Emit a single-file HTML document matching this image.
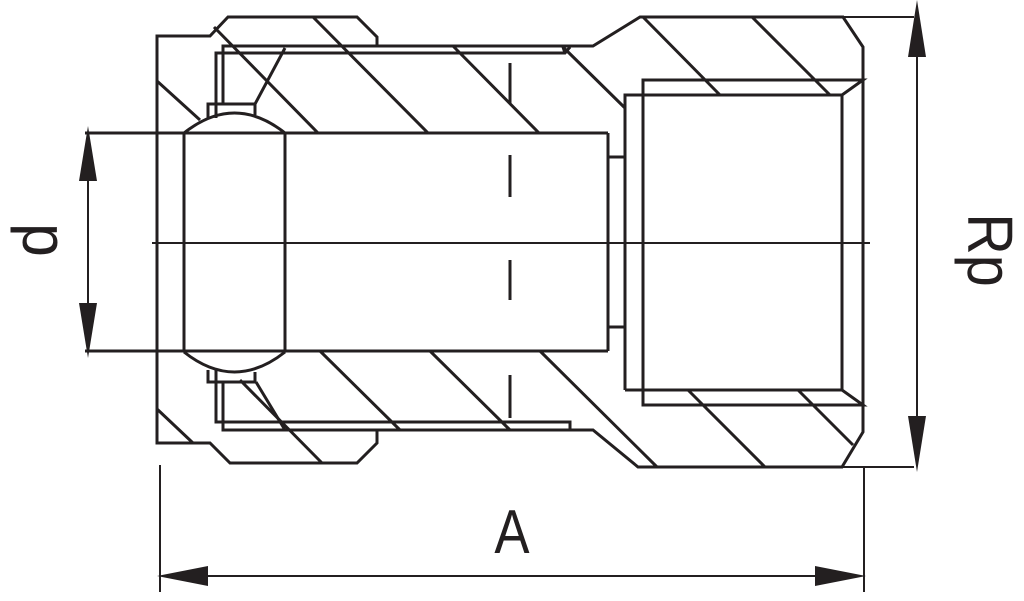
<!DOCTYPE html>
<html><head><meta charset="utf-8"><style>
html,body{margin:0;padding:0;background:#fff;}
svg{display:block;}
text{font-family:"Liberation Sans",sans-serif;fill:#231f20;}
</style></head><body>
<svg width="1024" height="601" viewBox="0 0 1024 601" xmlns="http://www.w3.org/2000/svg">
<g fill="none" stroke="#231f20" stroke-width="3" stroke-linejoin="miter">
<!-- outer body top -->
<polyline points="157,245 157,36 210,36 228,17 357,17 377,37 377,46"/>
<polyline points="223,105 223,46 593,46 640,17 843,17 863,47 863,432 842,467 638,467 593,430 223,430 223,382"/>
<polyline points="216,118 216,53 565,53 570,47"/>
<line x1="565" y1="53" x2="563" y2="47"/>
<polyline points="216,370 216,422 570,422 570,430"/>
<!-- outer body bottom -->
<polyline points="157,245 157,443 210,443 230,463 357,463 377,443 377,430"/>
<!-- small rects near ball -->
<polyline points="208,118 208,104 255,104 255,115"/>
<polyline points="208,370 208,382 255,382 255,372"/>
<line x1="255" y1="104" x2="285" y2="48"/>
<line x1="256" y1="382" x2="285" y2="430"/>
<line x1="240" y1="380" x2="322" y2="463"/>
<!-- ball -->
<path d="M184,133 Q234.5,93 285,133"/>
<path d="M184,352 Q234.5,392 285,352"/>
<line x1="184" y1="133" x2="184" y2="352"/>
<line x1="285" y1="133" x2="285" y2="352"/>
<!-- pipe -->
<line x1="85" y1="133" x2="608" y2="133"/>
<line x1="85" y1="351" x2="608" y2="351"/>
<line x1="608" y1="133" x2="608" y2="351"/>
<polyline points="608,157 625,157"/>
<polyline points="608,327 625,327"/>
<!-- inner thread -->
<polyline points="625,390 625,95 842,95 863,80 643,80 643,405 863,405 842,390 625,390"/>
<line x1="842" y1="95" x2="842" y2="390"/>
<!-- hatches -->
<line x1="157" y1="81" x2="200" y2="120"/>
<line x1="214" y1="27" x2="318" y2="133"/>
<line x1="313" y1="17" x2="428" y2="133"/>
<line x1="453" y1="46" x2="539" y2="133"/>
<line x1="563" y1="47" x2="625" y2="108"/>
<line x1="643" y1="17" x2="720" y2="95"/>
<line x1="752" y1="17" x2="830" y2="95"/>
<line x1="157" y1="409" x2="193" y2="443"/>
<line x1="320" y1="351" x2="400" y2="430"/>
<line x1="430" y1="351" x2="510" y2="430"/>
<line x1="540" y1="351" x2="657" y2="467"/>
<line x1="688" y1="390" x2="765" y2="467"/>
<line x1="798" y1="390" x2="853" y2="445"/>
<!-- dashed -->
<line x1="510" y1="63" x2="510" y2="103"/>
<line x1="510" y1="155" x2="510" y2="197"/>
<line x1="510" y1="260" x2="510" y2="300"/>
<line x1="510" y1="375" x2="510" y2="418"/>
</g>
<g stroke="#231f20" stroke-width="2" fill="none">
<!-- center line -->
<line x1="152" y1="243" x2="870" y2="243"/>
<!-- extension lines -->
<line x1="843" y1="17" x2="914" y2="17"/>
<line x1="842" y1="467" x2="914" y2="467"/>
<line x1="160" y1="465" x2="160" y2="592"/>
<line x1="864" y1="467" x2="864" y2="592"/>
<!-- dim lines -->
<line x1="917" y1="30" x2="917" y2="450"/>
<line x1="88" y1="150" x2="88" y2="335"/>
<line x1="180" y1="576" x2="845" y2="576"/>
</g>
<g fill="#231f20">
<polygon points="917,0 908,57 926,57"/>
<polygon points="917,472 908,416 926,416"/>
<polygon points="88,126 79,181 97,181"/>
<polygon points="88,358 79,303 97,303"/>
<polygon points="157,576 208,566 208,586"/>
<polygon points="866,576 815,566 815,586"/>
</g>
<text x="0" y="0" font-size="62" transform="translate(512,553) scale(0.85,1)" text-anchor="middle">A</text>
<text x="0" y="0" font-size="64" text-anchor="middle" transform="translate(57,240) rotate(-90) scale(0.95,1)">d</text>
<text x="0" y="0" font-size="64" text-anchor="middle" transform="translate(968,250) rotate(90) scale(0.9,1)">Rp</text>
</svg>
</body></html>
